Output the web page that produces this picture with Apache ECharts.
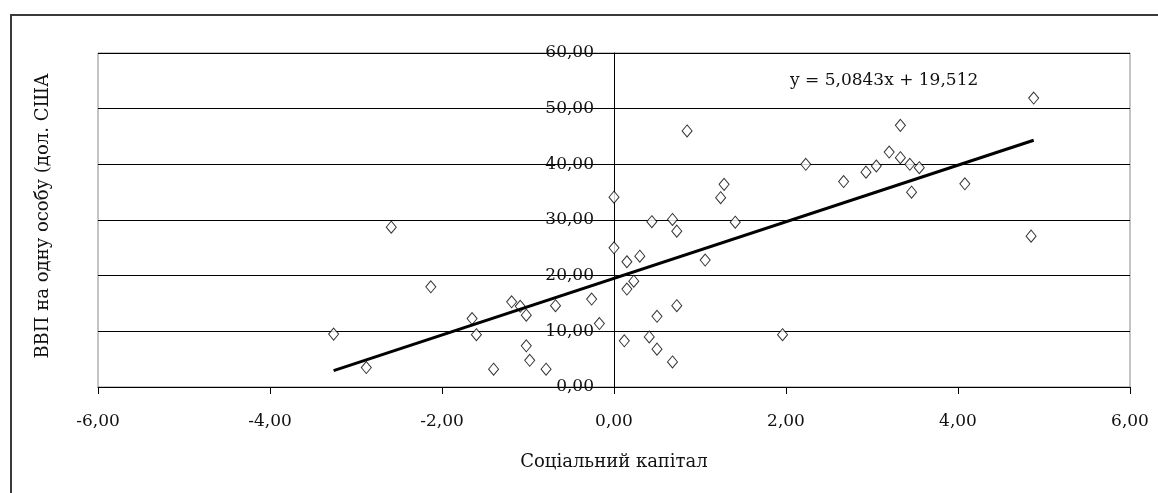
<!DOCTYPE html>
<html>
<head>
<meta charset="utf-8">
<script src="https://cdn.jsdelivr.net/npm/echarts@6/dist/echarts.min.js"></script>
<style>
html,body{margin:0;padding:0;background:#fff;}
#chart{width:1158px;height:493px;}
</style>
</head>
<body>
<div id="chart"></div>
<script>
// Social capital (x) values
const socialCapital = [
  -3.26, -2.88, -2.59, -2.13, -1.65, -1.60, -1.40, -1.19, -1.09, -1.02,
  -1.02, -0.98, -0.79, -0.68, -0.26, -0.17, 0.00, 0.00, 0.15, 0.30,
  0.23, 0.15, 0.12, 0.41, 0.50, 0.50, 0.68, 0.73, 0.44, 0.68,
  0.73, 0.85, 1.06, 1.24, 1.28, 1.41, 1.96, 2.23, 2.67, 2.93,
  3.05, 3.20, 3.33, 3.33, 3.44, 3.55, 3.46, 4.08, 4.88, 4.85
];
// GDP per capita (thousand USD) values
const gdpPerCapita = [
  9.5, 3.5, 28.7, 18.0, 12.3, 9.4, 3.2, 15.3, 14.5, 12.9,
  7.4, 4.8, 3.2, 14.6, 15.8, 11.4, 25.0, 34.1, 22.5, 23.5,
  19.0, 17.6, 8.3, 9.0, 6.8, 12.7, 4.5, 14.6, 29.7, 30.1,
  28.0, 46.0, 22.8, 34.0, 36.4, 29.6, 9.4, 40.0, 36.9, 38.6,
  39.7, 42.2, 47.0, 41.2, 40.0, 39.4, 35.0, 36.5, 51.9, 27.1
];
// Trend line coefficients shown on the chart
const trendSlope = 5.0843;
const trendIntercept = 19.512;
const trendLabel = 'y = 5,0843x + 19,512';
const xTitle = 'Соціальний капітал';
const yTitle = 'ВВП на одну особу (дол. США';

const points = socialCapital.map((x, i) => [x, gdpPerCapita[i]]);
const xMin = Math.min(...socialCapital), xMax = Math.max(...socialCapital);
const trend = [[xMin, trendSlope * xMin + trendIntercept], [xMax, trendSlope * xMax + trendIntercept]];

const FONT = 'DejaVu Serif';
const fmt = v => v.toFixed(2).replace('.', ',');

const GRID_LEFT = 98, GRID_RIGHT = 28;
const chart = echarts.init(document.getElementById('chart'), null, {renderer: 'canvas'});
const plotW = 1158 - GRID_LEFT - GRID_RIGHT;
// y axis sits at x = 0 of the x range [-6, 6]
const yAxisOffset = -plotW * (0 - (-6)) / 12;

chart.setOption({
  animation: false,
  backgroundColor: '#fff',
  grid: {left: GRID_LEFT, right: GRID_RIGHT, top: 53, bottom: 106, show: true, borderColor: '#8a8a8a', borderWidth: 1, backgroundColor: '#fff'},
  xAxis: {
    type: 'value', min: -6, max: 6, interval: 2,
    axisLine: {onZero: false, lineStyle: {color: '#000', width: 1}},
    axisTick: {show: true, length: 7, lineStyle: {color: '#000'}},
    axisLabel: {formatter: fmt, margin: 26, fontFamily: FONT, fontSize: 17, color: '#111'},
    splitLine: {show: false}
  },
  yAxis: {
    type: 'value', min: 0, max: 60, interval: 10, position: 'left', offset: yAxisOffset,
    axisLine: {onZero: false, lineStyle: {color: '#000', width: 1}},
    axisTick: {show: true, length: 6, lineStyle: {color: '#000'}},
    axisLabel: {formatter: fmt, margin: 20, fontFamily: FONT, fontSize: 17, color: '#111'},
    splitLine: {show: true, lineStyle: {color: '#000', width: 1}}
  },
  series: [
    {
      type: 'scatter', data: points, symbol: 'diamond', symbolSize: [10, 12],
      itemStyle: {color: '#fff', borderColor: '#000', borderWidth: 1}, z: 2
    },
    {
      type: 'line', data: trend, showSymbol: false, symbol: 'none',
      lineStyle: {color: '#000', width: 3}, z: 3, silent: true
    }
  ],
  graphic: [
    {type: 'rect', shape: {x: 11, y: 15, width: 1300, height: 700}, style: {fill: 'none', stroke: '#3a3a3a', lineWidth: 2}, z: 100},
    {type: 'text', x: 790, y: 81, style: {text: trendLabel, font: '17px "' + FONT + '"', fill: '#111', verticalAlign: 'middle', align: 'left'}, z: 100},
    {type: 'text', x: 614, y: 462, style: {text: xTitle, font: '18px "' + FONT + '"', fill: '#111', verticalAlign: 'middle', align: 'center'}, z: 100},
    {type: 'text', x: 43, y: 216, rotation: Math.PI / 2, style: {text: yTitle, font: '18px "' + FONT + '"', fill: '#111', verticalAlign: 'middle', align: 'center'}, z: 100}
  ]
});
</script>
</body>
</html>
